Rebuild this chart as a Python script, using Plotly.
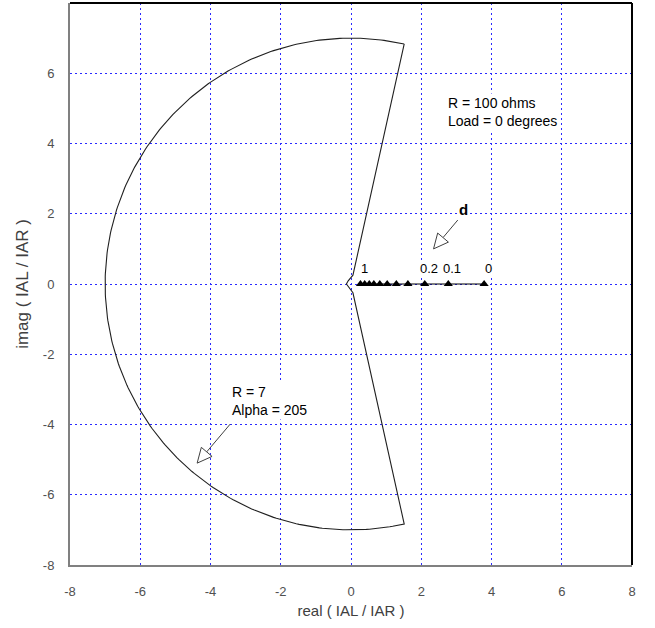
import numpy as np
import plotly.graph_objects as go

# Restrained-region characteristic parameters
R_REACH = 7.0          # radius of the arc
ALPHA_DEG = 205.0      # angular extent of the arc (degrees)

# Small notch near the origin (real, imag)
notch_re = [0.055, 0.0, -0.08, -0.13, -0.08, 0.0, 0.055]
notch_im = [0.25, 0.17, 0.09, 0.0, -0.09, -0.17, -0.25]

# Ratio locus for line length fraction d (1.0 down to 0)
d_values = [1.0, 0.9, 0.8, 0.7, 0.6, 0.5, 0.4, 0.3, 0.2, 0.1, 0.0]
ratio_re = [0.27, 0.39, 0.52, 0.65, 0.82, 1.03, 1.29, 1.62, 2.10, 2.77, 3.79]
ratio_im = [0.0] * len(d_values)
labelled_d = [1.0, 0.2, 0.1, 0.0]
d_labels = ["1", "0.2", "0.1", "0"]

tick_vals = [-8, -6, -4, -2, 0, 2, 4, 6, 8]
tick_text = ["-8", "-6", "-4", "-2", "0", "2", "4", "6", "8"]

# Boundary: arc from +half to -half through 180 deg, then the notch
half = np.deg2rad((360.0 - ALPHA_DEG) / 2.0)
theta = np.linspace(half, 2 * np.pi - half, 300)
arc_re = R_REACH * np.cos(theta)
arc_im = R_REACH * np.sin(theta)
bound_re = list(arc_re) + notch_re[::-1] + [arc_re[0]]
bound_im = list(arc_im) + notch_im[::-1] + [arc_im[0]]

fig = go.Figure()
fig.add_trace(go.Scatter(x=bound_re, y=bound_im, mode="lines",
                         line=dict(color="#202020", width=1.1),
                         hoverinfo="skip", showlegend=False))
fig.add_trace(go.Scatter(x=ratio_re, y=ratio_im, mode="lines+markers",
                         line=dict(color="black", width=1),
                         marker=dict(symbol="triangle-up", size=8, color="black"),
                         showlegend=False))

font = "Liberation Sans, Arial, sans-serif"
annotations = []
for dv, lab in zip(labelled_d, d_labels):
    xi = ratio_re[d_values.index(dv)]
    annotations.append(dict(x=xi, y=0, text=lab, showarrow=False,
                            xshift=4, yshift=16, bgcolor="white", borderpad=0,
                            font=dict(family=font, size=13, color="black")))

note_font = dict(family=font, size=14, color="black")
annotations += [
    dict(x=2.70, y=4.91, text="R = 100 ohms<br>Load = 0 degrees", showarrow=False,
         xanchor="left", align="left", bgcolor="white", borderpad=1, font=note_font),
    dict(x=3.21, y=2.11, text="<b>d</b>", showarrow=False, bgcolor="white",
         borderpad=0, font=dict(family=font, size=15, color="black")),
    dict(x=-3.44, y=-3.33, text="R = 7<br>Alpha = 205", showarrow=False,
         xanchor="left", align="left", bgcolor="white", borderpad=1, font=note_font),
]


def open_arrow(tail, head, size=0.42, width=0.2):
    """Shaft plus a hollow arrowhead, in data coordinates."""
    tx, ty = tail
    hx, hy = head
    vx, vy = hx - tx, hy - ty
    L = np.hypot(vx, vy)
    ux, uy = vx / L, vy / L
    bx, by = hx - ux * size, hy - uy * size
    px, py = -uy, ux
    shaft = dict(type="line", x0=tx, y0=ty, x1=bx, y1=by, xref="x", yref="y",
                 line=dict(color="#404040", width=1))
    tri = (f"M {hx},{hy} L {bx + px * width},{by + py * width} "
           f"L {bx - px * width},{by - py * width} Z")
    head_shape = dict(type="path", path=tri, xref="x", yref="y",
                      fillcolor="white", line=dict(color="#404040", width=1))
    return [shaft, head_shape]


shapes = []
shapes += open_arrow((3.04, 1.82), (2.35, 1.0))
shapes += open_arrow((-3.44, -3.99), (-4.38, -5.10))
# black frame on top and right
shapes.append(dict(type="line", xref="x domain", yref="y domain",
                   x0=0, x1=1, y0=1, y1=1, line=dict(color="black", width=2)))
shapes.append(dict(type="line", xref="x domain", yref="y domain",
                   x0=1, x1=1, y0=0, y1=1, line=dict(color="black", width=2)))

axis_common = dict(
    range=[-8, 8], tickmode="array", tickvals=tick_vals, ticktext=tick_text,
    showgrid=True, gridcolor="#2a2aff", griddash="2px,3px", gridwidth=1.2,
    zeroline=False, showline=True, linecolor="#808080", linewidth=2,
    ticks="outside", tickcolor="rgba(0,0,0,0)",
    tickfont=dict(family=font, size=13, color="#505050"),
)

fig.update_layout(
    width=655, height=628,
    margin=dict(l=70, r=23, t=3, b=63),
    paper_bgcolor="white", plot_bgcolor="white",
    xaxis=dict(**axis_common, ticklen=13,
               title=dict(text="real ( IAL / IAR )", standoff=8,
                          font=dict(family=font, size=15, color="#404040"))),
    yaxis=dict(**axis_common, ticklen=11,
               title=dict(text="imag ( IAL / IAR )", standoff=10,
                          font=dict(family=font, size=17, color="#404040"))),
    annotations=annotations,
    shapes=shapes,
    showlegend=False,
)

fig.write_html("out.html")
